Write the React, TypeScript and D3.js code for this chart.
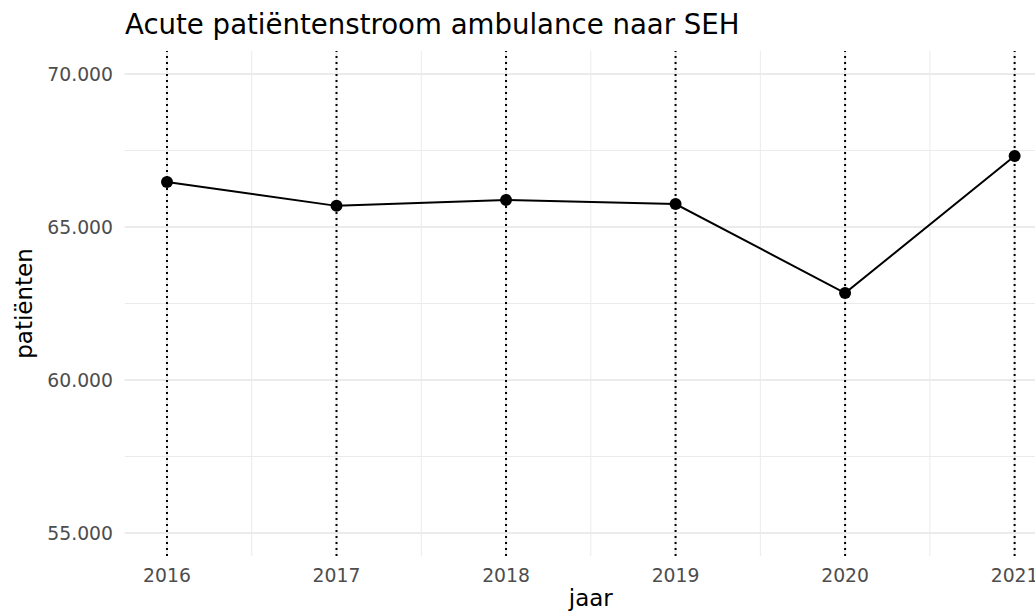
import React, { useEffect, useRef } from 'react';
import * as d3 from 'd3';

const years = [2016, 2017, 2018, 2019, 2020, 2021];
const patients = [66470, 65690, 65880, 65750, 62840, 67320];
const yTicks = [55000, 60000, 65000, 70000];
const yMinor = [57500, 62500, 67500];
const xMinor = [2016.5, 2017.5, 2018.5, 2019.5, 2020.5];

const W = 1035;
const H = 613;
const fmt = (v: number) => d3.format(',')(v).replace(/,/g, '.');

export default function App() {
  const ref = useRef<SVGSVGElement>(null);

  useEffect(() => {
    const svg = d3.select(ref.current);
    svg.selectAll('*').remove();

    const font = 'DejaVu Sans, sans-serif';
    const x = d3.scaleLinear().domain([2015.75, 2021.25]).range([124.6, 1057]);
    const y = d3.scaleLinear().domain([54250, 70750]).range([556, 51]);

    const g = svg.append('g');

    // minor gridlines
    g.selectAll('.ymin').data(yMinor).enter().append('line')
      .attr('x1', x(2015.75)).attr('x2', x(2021.25))
      .attr('y1', d => y(d)).attr('y2', d => y(d))
      .attr('stroke', '#ebebeb').attr('stroke-width', 1);
    g.selectAll('.xmin').data(xMinor).enter().append('line')
      .attr('x1', d => x(d)).attr('x2', d => x(d))
      .attr('y1', y.range()[0]).attr('y2', y.range()[1])
      .attr('stroke', '#ebebeb').attr('stroke-width', 1);

    // major gridlines
    g.selectAll('.ymaj').data(yTicks).enter().append('line')
      .attr('x1', x(2015.75)).attr('x2', x(2021.25))
      .attr('y1', d => y(d)).attr('y2', d => y(d))
      .attr('stroke', '#ebebeb').attr('stroke-width', 2);
    g.selectAll('.xmaj').data(years).enter().append('line')
      .attr('x1', d => x(d)).attr('x2', d => x(d))
      .attr('y1', y.range()[0]).attr('y2', y.range()[1])
      .attr('stroke', '#ebebeb').attr('stroke-width', 2);

    // dotted vlines
    g.selectAll('.vl').data(years).enter().append('line')
      .attr('x1', d => x(d)).attr('x2', d => x(d))
      .attr('y1', y.range()[0]).attr('y2', y.range()[1])
      .attr('stroke', '#000').attr('stroke-width', 2)
      .attr('stroke-dasharray', '2,4');

    const pts = years.map((yr, i) => [yr, patients[i]] as [number, number]);
    const line = d3.line<[number, number]>().x(d => x(d[0])).y(d => y(d[1]));
    g.append('path').datum(pts).attr('d', line)
      .attr('fill', 'none').attr('stroke', '#000').attr('stroke-width', 2);
    g.selectAll('circle').data(pts).enter().append('circle')
      .attr('cx', d => x(d[0])).attr('cy', d => y(d[1])).attr('r', 6)
      .attr('fill', '#000');

    // tick labels
    g.selectAll('.yl').data(yTicks).enter().append('text')
      .attr('x', 113).attr('y', d => y(d)).attr('dy', '0.35em')
      .attr('text-anchor', 'end').attr('font-family', font).attr('font-size', 18.8)
      .attr('fill', '#4d4d4d').text(d => fmt(d));
    g.selectAll('.xl').data(years).enter().append('text')
      .attr('x', d => x(d)).attr('y', 582)
      .attr('text-anchor', 'middle').attr('font-family', font).attr('font-size', 18.8)
      .attr('fill', '#4d4d4d').text(d => String(d));

    // axis titles
    g.append('text').attr('x', (124.6 + 1057) / 2).attr('y', 606)
      .attr('text-anchor', 'middle').attr('font-family', font).attr('font-size', 23)
      .attr('fill', '#000').text('jaar');
    g.append('text')
      .attr('transform', `translate(32,${(51 + 556) / 2}) rotate(-90)`)
      .attr('text-anchor', 'middle').attr('font-family', font).attr('font-size', 23)
      .attr('fill', '#000').text('patiënten');

    g.append('text').attr('x', 125).attr('y', 34)
      .attr('font-family', font).attr('font-size', 27.6)
      .attr('fill', '#000').text('Acute patiëntenstroom ambulance naar SEH');
  }, []);

  return (
    <svg ref={ref} width={W} height={H} style={{ position: 'absolute', left: 0, top: 0, background: '#fff' }} />
  );
}
